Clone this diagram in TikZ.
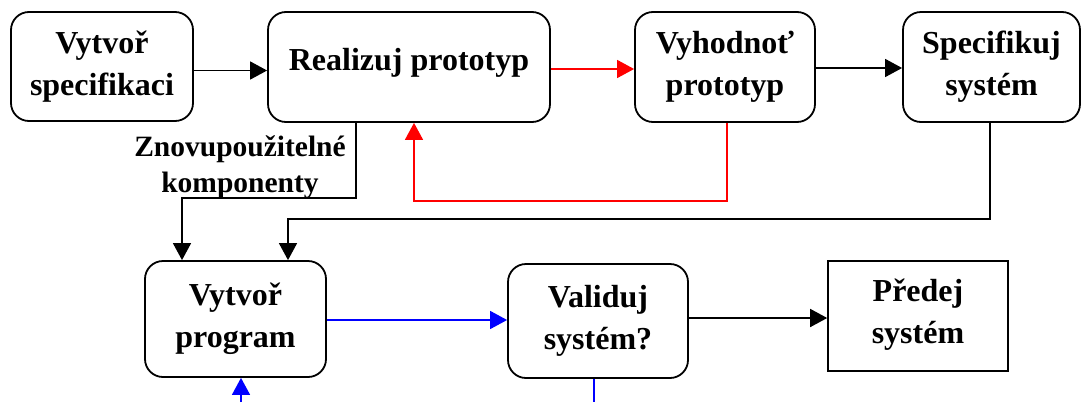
\documentclass[tikz,border=0pt]{standalone}
\usepackage{fontspec}
\setmainfont{Liberation Serif}
\usetikzlibrary{arrows.meta}
\tikzset{
  box/.style={draw, line width=1.8pt, rounded corners=18pt, align=center, inner sep=0pt,
    font=\fontsize{32}{42}\selectfont\bfseries},
  sqbox/.style={draw, line width=1.6pt, align=center, inner sep=0pt,
    font=\fontsize{32}{42}\selectfont\bfseries},
  conn/.style={line width=1.5pt, -{Triangle[length=17pt,width=18pt]}},
  plain/.style={line width=1.5pt},
  lbl/.style={align=center, inner sep=0pt, font=\fontsize{29.5}{36}\selectfont\bfseries}
}
\begin{document}
\begin{tikzpicture}[x=1pt,y=-1pt]
\useasboundingbox (0,0) rectangle (1081,402);
% top row
\node[box, minimum width=182pt, minimum height=109pt] (b1) at (102,66.5) {Vytvoř\\specifikaci};
\node[box, minimum width=282pt, minimum height=110pt, text depth=15pt] (b2) at (409,67) {Realizuj prototyp};
\node[box, minimum width=180pt, minimum height=110pt] (b3) at (725,67) {Vyhodnoť\\prototyp};
\node[box, minimum width=177pt, minimum height=110pt] (b4) at (991.5,67) {Specifikuj\\systém};
% bottom row
\node[box, minimum width=181pt, minimum height=116pt] (b5) at (235.5,319) {Vytvoř\\program};
\node[box, minimum width=180pt, minimum height=114pt] (b6) at (598,321) {Validuj\\systém?};
\node[sqbox, minimum width=180pt, minimum height=110pt, text depth=10pt] (b7) at (918,316) {Předej\\systém};
% label
\node[lbl] (lab) at (240,167) {Znovupoužitelné\\komponenty};
% connectors top row
\draw[conn] ([yshift=-4pt]b1.east) -- ([yshift=-4pt]b1.east -| b2.west);
\draw[conn, red] ([yshift=-2pt]b2.east) -- ([yshift=-2pt]b2.east -| b3.west);
\draw[conn] ([yshift=-1pt]b3.east) -- ([yshift=-1pt]b3.east -| b4.west);
% red feedback
\draw[conn, red] ([xshift=2pt]b3.south) -- ++(0,78) -| ([xshift=5pt]b2.south);
% reusable components
\draw[conn] ([xshift=-53pt]b2.south) -- ++(0,75) -| ([xshift=-53.5pt]b5.north);
% from specify system
\draw[conn] ([xshift=-1.5pt]b4.south) -- ++(0,96) -| ([xshift=52.5pt]b5.north);
% bottom row
\draw[conn, blue] ([yshift=-1pt]b5.east) -- ([yshift=-1pt]b5.east -| b6.west);
\draw[conn] ([yshift=3pt]b6.east) -- ([yshift=3pt]b6.east -| b7.west);
\coordinate (in5) at (241,402);
\draw[conn, blue] (in5) -- (in5 |- b5.south);
\coordinate (out6) at (594,402);
\draw[plain, blue] (out6 |- b6.south) -- (out6);
\end{tikzpicture}
\end{document}
